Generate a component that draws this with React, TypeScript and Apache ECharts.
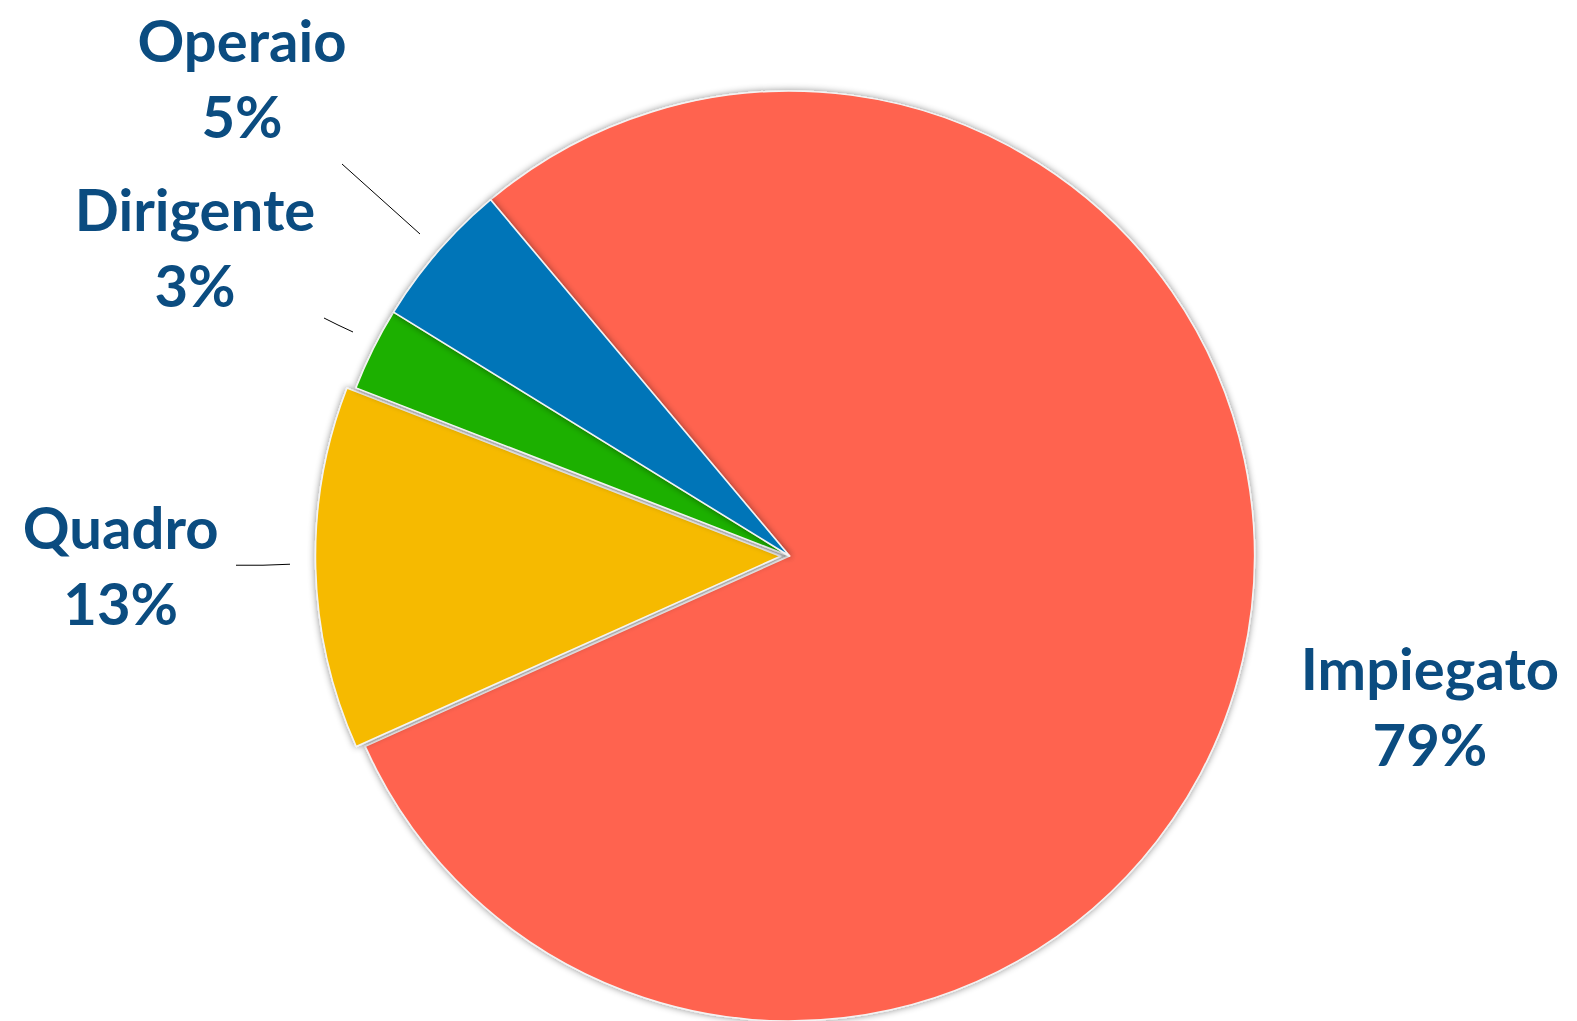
import React, { useEffect, useRef } from "react";
import * as echarts from "echarts";

const categories = ["Impiegato", "Quadro", "Dirigente", "Operaio"];
const values = [79.4, 12.6, 2.9, 5.1];
const colors = ["#FF6450", "#F6BA00", "#1EB000", "#0075B8"];
const exploded = ["Quadro"];

// label layout (pixel positions, styling only)
const labelPos = [
  [1430, 705],
  [121, 564],
  [195, 246],
  [242, 77],
];
const leaderLines: (number[][] | null)[] = [
  null,
  [[245, 565], [272, 565], [299, 564]],
  [[324, 318], [338, 325], [353, 332]],
  [[342, 164], [381, 199], [420, 234]],
];

export default function App() {
  const ref = useRef<HTMLDivElement>(null);
  useEffect(() => {
    if (!ref.current) return;
    const chart = echarts.init(ref.current, undefined, { renderer: "svg" });
    chart.setOption({
      animation: false,
      backgroundColor: "#ffffff",
      series: [
        {
          type: "pie",
          center: [789.5, 556],
          radius: 465,
          startAngle: 130,
          clockwise: true,
          avoidLabelOverlap: false,
          selectedMode: "multiple",
          selectedOffset: 9,
          data: categories.map((name, i) => {
            const sel = exploded.includes(name);
            return {
              name,
              value: values[i],
              selected: sel,
              itemStyle: { color: colors[i] },
              labelLine: sel
                ? { show: true, length: 15, length2: 175 }
                : { show: leaderLines[i] !== null },
            };
          }),
          itemStyle: {
            borderColor: "#f4f4f4",
            borderWidth: 1.5,
            shadowBlur: 7,
            shadowColor: "rgba(0,0,0,0.45)",
            shadowOffsetX: 0,
            shadowOffsetY: 0,
          },
          label: {
            show: true,
            position: "outside",
            formatter: (p: any) => {
              const base = `${p.name}\n${Math.round(p.percent)}%`;
              return exploded.includes(p.name) ? `${base}\n{s| }` : base;
            },
            color: "#0B4C80",
            fontFamily: "Lato",
            fontWeight: "bold",
            fontSize: 58,
            lineHeight: 76,
            align: "center",
            rich: {
              s: { fontSize: 1, lineHeight: 9 },
            },
          },
          labelLine: {
            show: true,
            lineStyle: { color: "#000000", width: 1 },
          },
          labelLayout: (params: any) => {
            const i = params.dataIndex;
            return {
              x: labelPos[i][0],
              y: labelPos[i][1],
              align: "center",
              verticalAlign: "middle",
              labelLinePoints: leaderLines[i] || undefined,
            };
          },
          emphasis: { disabled: true },
        },
      ],
    });
    return () => chart.dispose();
  }, []);
  return (
    <div
      ref={ref}
      style={{ position: "fixed", left: 0, top: 0, width: 1577, height: 1021 }}
    />
  );
}
